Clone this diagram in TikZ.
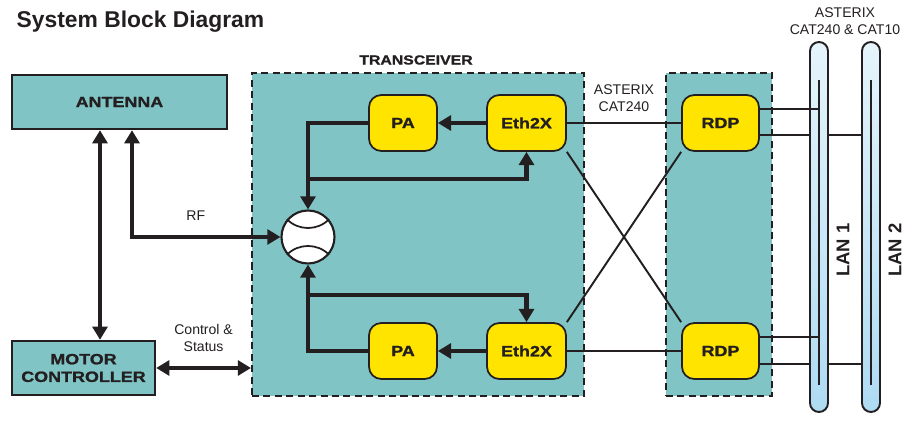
\documentclass[tikz,border=0pt]{standalone}
\usepackage{fontspec}
\setmainfont{Liberation Sans}
\newfontfamily\blkfont[FakeStretch=1.2, BoldFeatures={FakeBold=1.2}]{Liberation Sans}
\usetikzlibrary{arrows.meta}
\definecolor{cyanbg}{HTML}{80C4C6}
\definecolor{paybox}{HTML}{FFE400}
\definecolor{lanhi}{HTML}{E6F4FB}
\definecolor{lanlo}{HTML}{AEDBF3}
\definecolor{ink}{HTML}{231F20}

\begin{document}
\begin{tikzpicture}[x=0.02cm, y=-0.02cm, color=ink, line width=1pt,
  blk/.style={draw, line width=1.4pt, fill=cyanbg, align=center, inner sep=0pt,
    font=\blkfont\bfseries\fontsize{8.5}{10}\selectfont},
  ybox/.style={draw, line width=1pt, fill=paybox, rounded corners=7pt,
    minimum height=1.12cm, inner sep=0pt, font=\blkfont\bfseries\fontsize{8.5}{10}\selectfont},
  grp/.style={draw, dash pattern=on 4pt off 2.5pt, line width=1.2pt, fill=cyanbg, inner sep=0pt},
  fat/.style={line width=2.4pt, -{Triangle[width=8.5pt,length=7.5pt]}},
  fat2/.style={line width=2.4pt, {Triangle[width=8.5pt,length=7.5pt]}-{Triangle[width=8.5pt,length=7.5pt]}},
  thin/.style={line width=1.1pt},
  bus/.style={draw, line width=1.1pt, rounded corners=0.18cm, top color=lanhi, bottom color=lanlo},
  lbl/.style={font=\fontsize{8}{9.5}\selectfont, align=center}]
\useasboundingbox (0,0) rectangle (914,421);

% 标题
\node[anchor=west, font=\bfseries\fontsize{13}{15}\selectfont] (title) at (10,22) {System Block Diagram};

% 虚线框
\node[grp, minimum width=6.64cm, minimum height=6.46cm] (trx) at (418,234.5) {};
\node[grp, minimum width=2.12cm, minimum height=6.46cm] (rdpgrp) at (719,234.5) {};
\node[font=\blkfont\bfseries\fontsize{7.5}{9}\selectfont] (trxlbl) at (416,60) {TRANSCEIVER};

% 各模块
\node[blk, minimum width=4.3cm, minimum height=1.08cm] (ant) at (119.5,102) {ANTENNA};
\node[blk, minimum width=2.86cm, minimum height=1.08cm] (mot) at (83.5,368) {MOTOR\\CONTROLLER};
\node[ybox, minimum width=1.36cm] (pa1) at (403,123) {PA};
\node[ybox, minimum width=1.58cm] (eth1) at (526.5,123) {Eth2X};
\node[ybox, minimum width=1.54cm] (rdp1) at (720.5,123) {RDP};
\node[ybox, minimum width=1.36cm] (pa2) at (403,351) {PA};
\node[ybox, minimum width=1.58cm] (eth2) at (526.5,351) {Eth2X};
\node[ybox, minimum width=1.54cm] (rdp2) at (720.5,351) {RDP};

% 环形器
\node[circle, draw, line width=1.2pt, fill=white, minimum size=1.06cm, inner sep=0pt] (circ) at (308,237) {};
\draw (circ.140) to[bend right=45] (circ.40);
\draw (circ.220) to[bend left=45] (circ.320);

% 粗箭头
\coordinate (up) at (308,179);
\coordinate (dn) at (308,295);
\draw[fat] (eth1) -- (pa1);
\draw[fat] (pa1.west) -| (circ.north);
\draw[fat] (up) -| (eth1.south);
\draw[fat] (eth2) -- (pa2);
\draw[fat] (pa2.west) -| (circ.south);
\draw[fat] (dn) -| (eth2.north);
\draw[fat2] ([xshift=0.25cm]ant.south) |- node[lbl, pos=0.715, above=5pt] {RF} (circ.west);
\draw[fat2] ([xshift=-0.39cm]ant.south) -- ([xshift=-0.39cm]ant.south |- mot.north);
\draw[fat2] (mot.east) -- node[lbl, above=5pt] {Control \&\\Status} (mot.east -| trx.west);

% 细线
\draw[thin] (eth1.east) -- node[lbl, above=2.5pt] {ASTERIX\\CAT240} (rdp1.west);
\draw[thin] (eth2.east) -- (rdp2.west);
\draw[thin] (eth1.south east) -- (rdp2.north west);
\draw[thin] (eth2.north east) -- (rdp1.south west);

% LAN 总线
\coordinate (lan1) at (819,0);
\coordinate (lan2) at (871,0);
\draw[thin] ([yshift=-0.24cm]rdp1.east) -- ([yshift=-0.24cm]rdp1.east -| lan2);
\draw[thin] ([yshift=-0.26cm]rdp2.east) -- ([yshift=-0.26cm]rdp2.east -| lan2);
\path[bus] (810,42) rectangle (828,412);
\path[bus] (862,42) rectangle (880,412);
\draw[thin] (lan1 |- 0,80) -- (lan1 |- 0,385);
\draw[thin] (lan2 |- 0,80) -- (lan2 |- 0,385);
\draw[thin] ([yshift=0.28cm]rdp1.east) -- ([yshift=0.28cm]rdp1.east -| lan1);
\draw[thin] ([yshift=0.28cm]rdp2.east) -- ([yshift=0.28cm]rdp2.east -| lan1);
\node[rotate=90, font=\bfseries\fontsize{10.5}{12}\selectfont] (lan1lbl) at (843,250) {LAN 1};
\node[rotate=90, font=\bfseries\fontsize{10.5}{12}\selectfont] (lan2lbl) at (895,250) {LAN 2};
\node[lbl] (astx) at (845,21) {ASTERIX\\CAT240 \& CAT10};
\end{tikzpicture}
\end{document}
